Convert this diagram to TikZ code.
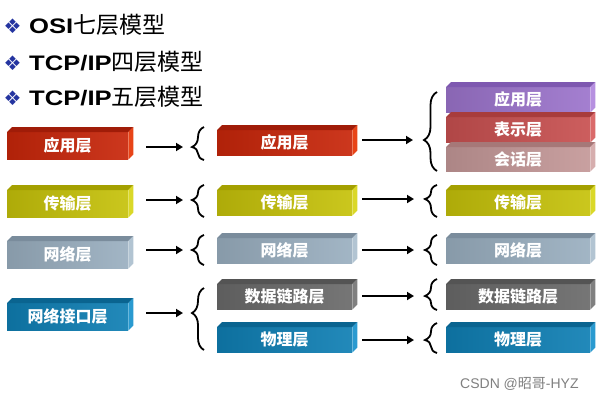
\documentclass[tikz,border=0pt]{standalone}
\usepackage{fontspec}
\setmainfont{Liberation Sans}
\newfontfamily\cjk{Noto Sans CJK SC}
\newfontfamily\ttllat{Liberation Sans}[FakeStretch=1.22]
\newfontfamily\symf{DejaVu Sans}
\usetikzlibrary{decorations.pathreplacing,arrows.meta}

\definecolor{redF}{HTML}{C8260A}\definecolor{redT}{HTML}{A01C08}\definecolor{redS}{HTML}{E84418}
\definecolor{yelF}{HTML}{C6C20A}\definecolor{yelT}{HTML}{A4A000}\definecolor{yelS}{HTML}{DAD828}
\definecolor{gbF}{HTML}{9AAFC0}\definecolor{gbT}{HTML}{7A8C9C}\definecolor{gbS}{HTML}{B2C4D2}
\definecolor{bluF}{HTML}{0F7FB4}\definecolor{bluT}{HTML}{0A6490}\definecolor{bluS}{HTML}{2A9AD0}
\definecolor{dgF}{HTML}{6A6A6A}\definecolor{dgT}{HTML}{545454}\definecolor{dgS}{HTML}{808080}
\definecolor{purF}{HTML}{9C74CC}\definecolor{purT}{HTML}{7E58B0}\definecolor{purS}{HTML}{B690E0}
\definecolor{rosF}{HTML}{C85050}\definecolor{rosT}{HTML}{A83C3C}\definecolor{rosS}{HTML}{DA6A6A}
\definecolor{pnkF}{HTML}{C49898}\definecolor{pnkT}{HTML}{A67878}\definecolor{pnkS}{HTML}{D6AEAE}
\definecolor{bulletblue}{HTML}{2434A0}

\tikzset{
  layerfront/.style={inner sep=0pt, text=white, font=\fontsize{16}{16}\selectfont\cjk\bfseries, anchor=north west},
  titletext/.style={anchor=base west, inner sep=0pt, font=\fontsize{21}{21}\selectfont\ttllat\bfseries},
  bullet/.style={inner sep=0pt, text=bulletblue, font=\fontsize{20}{20}\selectfont\symf},
  arr/.style={line width=2pt, -{Triangle[length=7pt,width=8pt]}},
  bracestyle/.style={line width=1.8pt, decorate},
  wmark/.style={anchor=base west, inner sep=0pt, text=black!50, font=\fontsize{14}{14}\selectfont},
}
\newcommand{\ttlcjk}[1]{{\fontsize{23}{23}\selectfont\cjk\mdseries #1}}

% name, x, y (top of front), w, h, colour base, text
\newcommand{\layer}[7]{%
  \node[layerfront, left color=#6F!88!black, right color=#6F!92!white,
        minimum width=#4pt, minimum height=#5pt] (#1) at (#2,#3) {#7};
  \fill[#6T] (#1.north west) -- ++(5,-5) -- ([shift={(5,-5)}]#1.north east) -- (#1.north east) -- cycle;
  \fill[#6S] (#1.north east) -- ++(5,-5) -- ([shift={(5,-5)}]#1.south east) -- (#1.south east) -- cycle;
}
% name, x (ends), bottom, top, tip y, amplitude
\newcommand{\bracegrp}[6]{%
  \pgfmathsetmacro{\asp}{(#3-#5)/(#3-#4)}
  \draw[bracestyle, decoration={brace, amplitude=#6pt, aspect=\asp}] (#2,#3) -- (#2,#4);
  \coordinate (#1) at ({#2-#6},#5);
}

\begin{document}
\begin{tikzpicture}[x=1pt,y=-1pt]
\useasboundingbox (0,0) rectangle (600,400);
\fill[white] (0,0) rectangle (600,400);

% titles
\node[bullet] (b1) at (12.5,26) {❖};
\node[bullet] (b2) at (12.5,63) {❖};
\node[bullet] (b3) at (12.5,98) {❖};
\node[titletext] (t1) at (29,33) {OSI\ttlcjk{七层模型}};
\node[titletext] (t2) at (29,70) {TCP/IP\ttlcjk{四层模型}};
\node[titletext] (t3) at (29,105) {TCP/IP\ttlcjk{五层模型}};

% column 1
\layer{a1}{7}{132}{121}{27}{red}{应用层}
\layer{a2}{7}{190}{121}{27}{yel}{传输层}
\layer{a3}{7}{241}{121}{27}{gb}{网络层}
\layer{a4}{7}{303}{121}{27}{blu}{网络接口层}

% column 2
\layer{m1}{217}{130}{135}{25}{red}{应用层}
\layer{m2}{217}{190}{135}{25}{yel}{传输层}
\layer{m3}{217}{238}{135}{25}{gb}{网络层}
\layer{m4}{217}{284}{135}{25}{dg}{数据链路层}
\layer{m5}{217}{327}{135}{25}{blu}{物理层}

% column 3
\layer{r1}{446}{87}{144}{25}{pur}{应用层}
\layer{r2}{446}{117}{144}{25}{ros}{表示层}
\layer{r3}{446}{147}{144}{24}{pnk}{会话层}
\layer{r4}{446}{190}{144}{25}{yel}{传输层}
\layer{r5}{446}{238}{144}{25}{gb}{网络层}
\layer{r6}{446}{284}{144}{25}{dg}{数据链路层}
\layer{r7}{446}{327}{144}{25}{blu}{物理层}

% braces column 2
\bracegrp{p1}{204}{160}{127}{147}{12}
\bracegrp{p2}{204}{217}{185}{200}{12}
\bracegrp{p3}{204}{265}{235}{250}{12}
\bracegrp{p4}{204}{350}{288}{313}{12}
% braces column 3
\bracegrp{q1}{437}{171}{92}{140}{13}
\bracegrp{q2}{437}{217}{185}{199}{12}
\bracegrp{q3}{437}{265}{235}{250}{12}
\bracegrp{q4}{437}{310}{279}{296}{12}
\bracegrp{q5}{437}{353}{323}{340}{12}

% arrows column 1 -> 2
\draw[arr] ([xshift=18pt]a1.east |- p1) -- ([xshift=-9pt]p1);
\draw[arr] ([xshift=18pt]a2.east |- p2) -- ([xshift=-9pt]p2);
\draw[arr] ([xshift=18pt]a3.east |- p3) -- ([xshift=-9pt]p3);
\draw[arr] ([xshift=18pt]a4.east |- p4) -- ([xshift=-9pt]p4);
% arrows column 2 -> 3
\draw[arr] ([xshift=10pt]m1.east |- q1) -- ([xshift=-11pt]q1);
\draw[arr] ([xshift=10pt]m2.east |- q2) -- ([xshift=-11pt]q2);
\draw[arr] ([xshift=10pt]m3.east |- q3) -- ([xshift=-11pt]q3);
\draw[arr] ([xshift=10pt]m4.east |- q4) -- ([xshift=-11pt]q4);
\draw[arr] ([xshift=10pt]m5.east |- q5) -- ([xshift=-11pt]q5);

% watermark
\node[wmark] (wm) at (460,388) {CSDN @{\cjk 昭哥}-HYZ};
\end{tikzpicture}
\end{document}
